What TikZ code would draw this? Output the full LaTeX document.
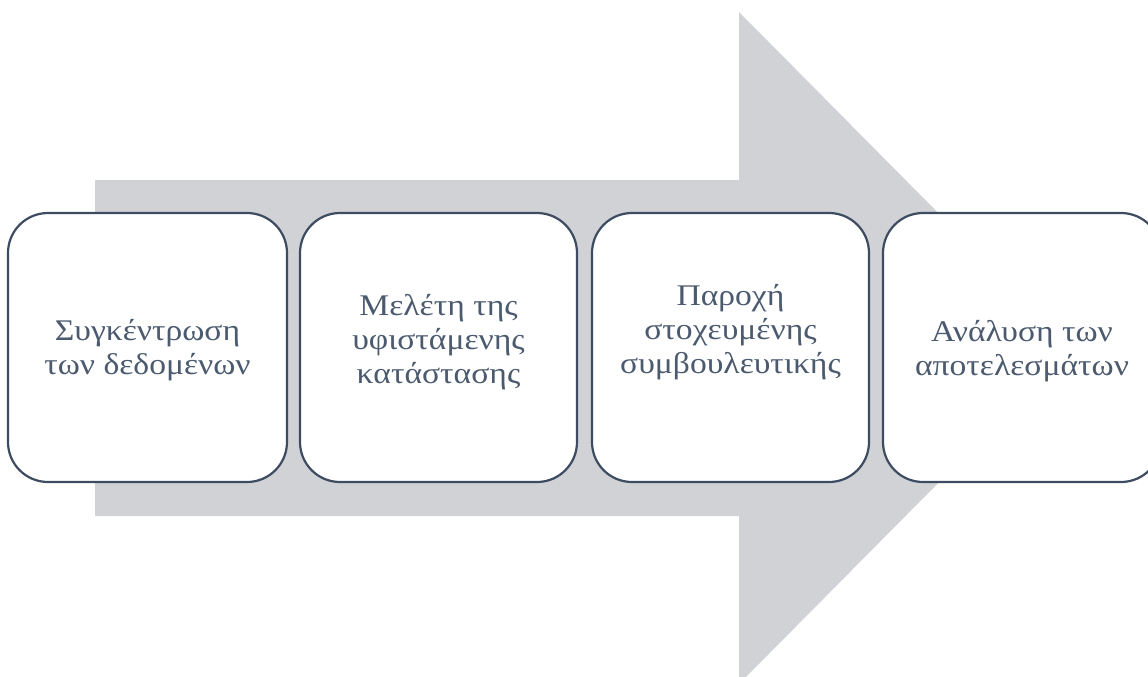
\documentclass[tikz,border=0pt]{standalone}
\usepackage{fontspec}
\setmainfont{Liberation Serif}
\newfontfamily\widegreek[FakeStretch=1.12]{Liberation Serif}
\definecolor{arrowgray}{HTML}{D0D2D6}
\definecolor{boxline}{HTML}{3E4C61}
\definecolor{txt}{HTML}{4B5A6E}
\begin{document}
\begin{tikzpicture}[x=1pt,y=-1pt,
  stepbox/.style={draw=boxline, line width=2.2pt, fill=white, rounded corners=40pt},
  lbl/.style={text=txt, align=center, font=\widegreek\fontsize{30}{34}\selectfont, inner sep=0pt}]
\useasboundingbox (0,0) rectangle (1148,677);
\clip (0,0) rectangle (1148,677);
\fill[arrowgray] (95,180) -- (739,180) -- (739,12) -- (1072,348) -- (739,684) -- (739,516) -- (95,516) -- cycle;
\draw[stepbox] (8,213) rectangle (287,482);
\draw[stepbox] (300,213) rectangle (577,482);
\draw[stepbox] (592,213) rectangle (869,482);
\draw[stepbox] (883,213) rectangle (1161,482);
\node[lbl] (t1) at (147.5,350) {Συγκέντρωση\\των δεδομένων};
\node[lbl] (t2) at (438.5,342) {Μελέτη της\\υφιστάμενης\\κατάστασης};
\node[lbl] (t3) at (730.5,332) {Παροχή\\στοχευμένης\\συμβουλευτικής};
\node[lbl] (t4) at (1022,351) {Ανάλυση των\\αποτελεσμάτων};
\end{tikzpicture}
\end{document}
